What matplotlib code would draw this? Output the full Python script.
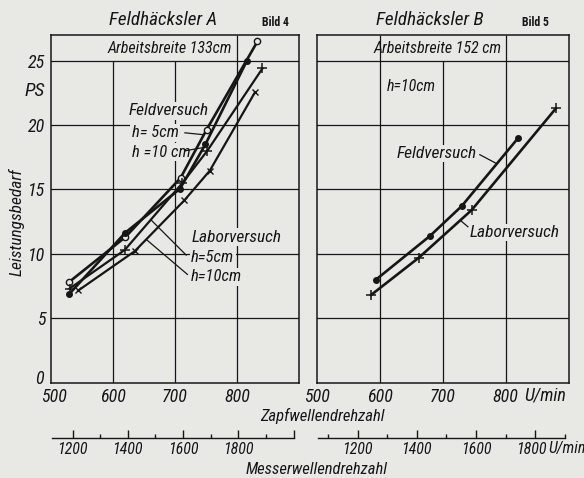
import matplotlib
matplotlib.use('Agg')
import matplotlib.pyplot as plt
import matplotlib.transforms as mtransforms
from matplotlib.ticker import FixedLocator, NullFormatter, FixedFormatter
from matplotlib import font_manager

# ---------------- data ----------------
zapf_ticks = [500, 600, 700, 800]
ps_ticks = [0, 5, 10, 15, 20, 25]

# Feldhäcksler A (Bild 4)
a_feld5_x = [529, 620, 709, 751, 833]
a_feld5_y = [7.8, 11.3, 15.9, 19.65, 26.5]
a_feld10_x = [529, 620, 708, 749, 816]
a_feld10_y = [6.85, 11.65, 15.05, 18.5, 25.0]
a_lab5_x = [530, 619, 712, 752, 841]
a_lab5_y = [7.3, 10.3, 15.5, 18.0, 24.4]
a_lab10_x = [544, 635, 715, 756, 829]
a_lab10_y = [7.15, 10.2, 14.15, 16.45, 22.55]

# Feldhäcksler B (Bild 5)
b_feld_x = [594, 680, 730, 820]
b_feld_y = [8.0, 11.4, 13.7, 19.0]
b_lab_x = [586, 662, 746, 880]
b_lab_y = [6.8, 9.7, 13.4, 21.3]

messer_labels = [1200, 1400, 1600, 1800]
messer_minor_a = [1300, 1500, 1700, 1900]
messer_minor_b = [1100, 1300, 1500, 1700, 1900]

# ---------------- style ----------------
PAPER = '#e8e8e5'
INK = '#161616'

names = {f.name for f in font_manager.fontManager.ttflist}
cands = ['Liberation Sans Narrow', 'Roboto Condensed', 'Open Sans Condensed',
         'DejaVu Sans']
FAM = [c for c in cands if c in names] or ['DejaVu Sans']
plt.rcParams['font.family'] = FAM + ['DejaVu Sans']
plt.rcParams['font.style'] = 'italic'
plt.rcParams['font.stretch'] = 'condensed'
NARROW = FAM[0] != 'DejaVu Sans'
TS = 12 if NARROW else 10.5

W, H = 584, 478
fig = plt.figure(figsize=(W / 100, H / 100), dpi=100, facecolor=PAPER)


def fx(px):
    return px / W


def fy(py):
    return 1 - py / H


def shift(label, dx_px, dy_px):
    off = mtransforms.ScaledTranslation(dx_px / 100, dy_px / 100,
                                        fig.dpi_scale_trans)
    label.set_transform(label.get_transform() + off)


def make_panel(x0, x1):
    ax = fig.add_axes([fx(x0), fy(382.5), fx(x1) - fx(x0), fy(35) - fy(382.5)])
    ax.set_facecolor(PAPER)
    ax.set_xlim(500, 900)
    ax.set_ylim(0, 27)
    for s in ax.spines.values():
        s.set_color(INK)
        s.set_linewidth(1.1)
    ax.set_xticks(zapf_ticks)
    ax.set_yticks(ps_ticks)
    ax.tick_params(length=0, labelsize=TS + 1, colors=INK)
    ax.tick_params(axis='x', pad=4)
    ax.tick_params(axis='y', pad=4)
    for y in ps_ticks[1:]:
        ax.axhline(y, color=INK, lw=0.9, zorder=1)
    return ax


axA = make_panel(51, 299)
axB = make_panel(317, 568.5)
axB.set_yticklabels([])
axB.tick_params(axis='y', length=0)

# lift the "0" label slightly as in the original
fig.canvas.draw()
shift(axA.get_yticklabels()[0], -2, 5)
shift(axA.get_xticklabels()[0], 3, 0)

# vertical grid lines (some stop below the header strip)
for x in [600, 700]:
    axA.vlines(x, 0, 25, color=INK, lw=0.9, zorder=1)
axA.vlines(800, 0, 27, color=INK, lw=0.9, zorder=1)
for x in [600, 800]:
    axB.vlines(x, 0, 27, color=INK, lw=0.9, zorder=1)
axB.vlines(700, 0, 25, color=INK, lw=0.9, zorder=1)

LW = 1.9
bb = dict(facecolor=PAPER, edgecolor='none', pad=1.0)

# curves panel A
axA.plot(a_feld5_x, a_feld5_y, color=INK, lw=LW, marker='o', ms=4.5,
         mfc=PAPER, mec=INK, mew=1.0, zorder=4)
axA.plot(a_feld10_x, a_feld10_y, color=INK, lw=LW, marker='o', ms=4,
         mfc=INK, mec=INK, zorder=4)
axA.plot(a_lab5_x, a_lab5_y, color=INK, lw=LW - 0.3, marker='+', ms=7,
         mec=INK, mew=1.1, zorder=4)
axA.plot(a_lab10_x, a_lab10_y, color=INK, lw=LW - 0.3, marker='x', ms=5,
         mec=INK, mew=1.0, zorder=4)

# curves panel B
axB.plot(b_feld_x, b_feld_y, color=INK, lw=LW, marker='o', ms=4,
         mfc=INK, mec=INK, zorder=4)
axB.plot(b_lab_x, b_lab_y, color=INK, lw=LW, marker='+', ms=7,
         mec=INK, mew=1.1, zorder=4)

# headers
axA.text(691, 25.95, 'Arbeitsbreite 133cm', ha='center', va='center',
         fontsize=TS - 0.5, color=INK, zorder=5)
axB.text(691, 25.95, 'Arbeitsbreite 152 cm', ha='center', va='center',
         fontsize=TS - 0.5, color=INK, zorder=5)

# annotations panel A
axA.text(625, 21.1, 'Feldversuch', ha='left', va='center', fontsize=TS + 0.5,
         color=INK, bbox=bb, zorder=3)
axA.text(630, 19.4, 'h= 5cm', ha='left', va='center', fontsize=TS,
         color=INK, bbox=bb, zorder=3)
axA.text(630, 17.9, 'h =10 cm', ha='left', va='center', fontsize=TS,
         color=INK, bbox=bb, zorder=3)
axA.plot([716, 747], [19.4, 19.25], color=INK, lw=0.9, zorder=3)
axA.plot([716, 745], [18.0, 18.25], color=INK, lw=0.9, zorder=3)

axA.text(726, 11.3, 'Laborversuch', ha='left', va='center', fontsize=TS + 0.5,
         color=INK, bbox=bb, zorder=3)
axA.text(726, 9.7, 'h=5cm', ha='left', va='center', fontsize=TS,
         color=INK, bbox=bb, zorder=3)
axA.text(726, 8.2, 'h=10cm', ha='left', va='center', fontsize=TS,
         color=INK, bbox=bb, zorder=3)
axA.plot([718, 662], [9.9, 12.6], color=INK, lw=0.9, zorder=3)
axA.plot([720, 654], [8.4, 11.1], color=INK, lw=0.9, zorder=3)

# annotations panel B
axB.text(611, 23.0, 'h=10cm', ha='left', va='center', fontsize=TS - 0.5,
         color=INK, bbox=bb, zorder=3)
axB.text(627, 17.8, 'Feldversuch', ha='left', va='center', fontsize=TS + 0.5,
         color=INK, bbox=bb, zorder=3)
axB.plot([759, 786], [17.7, 17.0], color=INK, lw=0.9, zorder=3)
axB.text(742, 11.65, 'Laborversuch', ha='left', va='center', fontsize=TS + 0.5,
         color=INK, bbox=bb, zorder=3)
axB.plot([740, 728], [12.1, 12.6], color=INK, lw=0.9, zorder=3)

# titles
fig.text(fx(163), fy(20), 'Feldhäcksler A', ha='center', va='center',
         fontsize=TS + 1.8, color=INK)
fig.text(fx(275), fy(22), 'Bild 4', ha='center', va='center', fontsize=8.5,
         fontweight='bold', style='normal', color=INK)
fig.text(fx(430), fy(20), 'Feldhäcksler B', ha='center', va='center',
         fontsize=TS + 1.8, color=INK)
fig.text(fx(535), fy(22), 'Bild 5', ha='center', va='center', fontsize=8.5,
         fontweight='bold', style='normal', color=INK)

# y label and unit
fig.text(fx(17), fy(222), 'Leistungsbedarf', rotation=90, ha='center',
         va='center', fontsize=TS + 0.5, color=INK)
fig.text(fx(45), fy(91), 'PS', ha='right', va='center', fontsize=TS + 2,
         color=INK)

# x axis captions
fig.text(fx(524), fy(395), 'U/min', ha='left', va='center', fontsize=TS + 1,
         color=INK)
fig.text(fx(322), fy(416), 'Zapfwellendrehzahl', ha='center', va='center',
         fontsize=TS, color=INK)
fig.text(fx(548), fy(448), 'U/min', ha='left', va='center', fontsize=TS - 0.5,
         color=INK)
fig.text(fx(317), fy(469), 'Messerwellendrehzahl', ha='center', va='center',
         fontsize=TS, color=INK)

# secondary scales (Messerwellendrehzahl)
ratio_a = 2.244
ratio_b = 2.125


def messer_axis(x0, x1, ratio, minor, lo, hi, extra_major):
    ax = fig.add_axes([fx(x0), fy(437.7), fx(x1) - fx(x0), 0.0005])
    ax.patch.set_visible(False)
    ax.set_xlim(500 * ratio, 900 * ratio)
    ax.set_ylim(0, 1)
    for k in ['top', 'left', 'right']:
        ax.spines[k].set_visible(False)
    ax.spines['bottom'].set_bounds(lo, hi)
    ax.spines['bottom'].set_color(INK)
    ax.spines['bottom'].set_linewidth(1.0)
    ax.set_yticks([])
    majors = messer_labels + extra_major
    ax.xaxis.set_major_locator(FixedLocator(majors))
    ax.xaxis.set_major_formatter(FixedFormatter(
        [str(v) for v in messer_labels] + [''] * len(extra_major)))
    ax.xaxis.set_minor_locator(FixedLocator(minor))
    ax.xaxis.set_minor_formatter(NullFormatter())
    ax.tick_params(axis='x', which='major', direction='in', length=5.5,
                   width=1.0, colors=INK, labelsize=TS - 0.5, pad=3)
    ax.tick_params(axis='x', which='minor', direction='in', length=2.8,
                   width=1.0, colors=INK)
    return ax


messer_axis(51, 299, ratio_a, messer_minor_a, 1127, 2000, [2000])
axMB = messer_axis(317, 568.5, ratio_b, messer_minor_b, 1065, 1900, [])
fig.canvas.draw()
shift(axMB.get_xticklabels()[-1], -4, 0)

fig.savefig('out.png', dpi=100, facecolor=PAPER)
